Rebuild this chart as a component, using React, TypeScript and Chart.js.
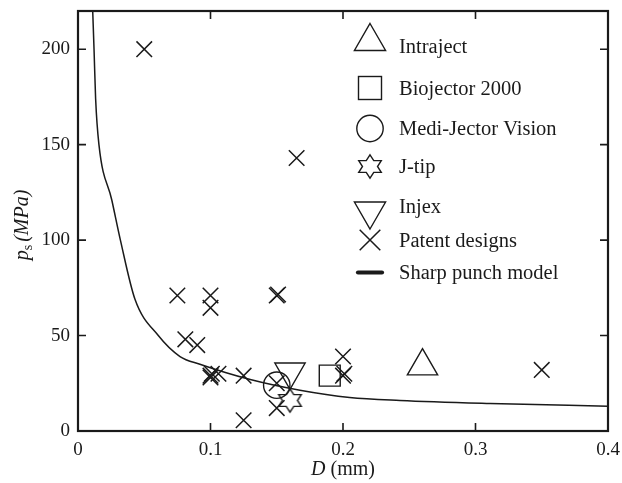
import { useEffect, useRef } from 'react';
import { Chart, registerables } from 'chart.js';

Chart.register(...registerables);

// ---- Data ----
const xTicks = [0, 0.1, 0.2, 0.3, 0.4];
const yTicks = [0, 50, 100, 150, 200];

const intrajectD = [0.26];
const intrajectP = [34];
const biojectorD = [0.19];
const biojectorP = [29];
const mediJectorD = [0.15];
const mediJectorP = [24];
const jTipD = [0.16];
const jTipP = [16];
const injexD = [0.16];
const injexP = [31];

const patentD = [0.05, 0.165, 0.075, 0.1, 0.1, 0.15, 0.151, 0.081, 0.09, 0.1, 0.1, 0.101, 0.106, 0.125, 0.15, 0.15, 0.125, 0.2, 0.2, 0.201, 0.35];
const patentP = [200, 143, 71, 71, 64.5, 71, 71.5, 48, 45, 28, 29, 30, 30, 29, 25, 12, 5.6, 39, 29, 30, 32];

const curveD = [0.0111, 0.0121, 0.0133, 0.0158, 0.0255, 0.032, 0.043, 0.0606, 0.077, 0.092, 0.13, 0.1675, 0.205, 0.243, 0.311, 0.4];
const curveP = [220, 200, 174, 150, 121, 100, 69, 50, 39, 35, 27, 21.4, 17.6, 16, 14.4, 13];

const legendLabels = ['Intraject', 'Biojector 2000', 'Medi-Jector Vision', 'J-tip', 'Injex', 'Patent designs', 'Sharp punch model'];

const INK = '#1a1a1a';
const SERIF = '"Liberation Serif", "Times New Roman", serif';

const pts = (xs: number[], ys: number[]) => xs.map((x, i) => ({ x, y: ys[i] }));

function hexPath(g: CanvasRenderingContext2D, cx: number, cy: number, R: number) {
  const r = R / Math.sqrt(3);
  g.beginPath();
  for (let i = 0; i < 12; i++) {
    const a = -Math.PI / 2 + (i * Math.PI) / 6;
    const rr = i % 2 === 0 ? R : r;
    const px = cx + rr * Math.cos(a);
    const py = cy + rr * Math.sin(a) * 0.9;
    if (i === 0) g.moveTo(px, py);
    else g.lineTo(px, py);
  }
  g.closePath();
}

function makeHexagram(R: number, lw: number) {
  const size = Math.ceil(2 * R + lw * 2 + 4);
  const c = document.createElement('canvas');
  c.width = size;
  c.height = size;
  const g = c.getContext('2d')!;
  g.strokeStyle = INK;
  g.lineWidth = lw;
  g.lineJoin = 'miter';
  hexPath(g, size / 2, size / 2, R);
  g.stroke();
  return c;
}

export default function App() {
  const ref = useRef<HTMLCanvasElement | null>(null);

  useEffect(() => {
    if (!ref.current) return;
    const star = makeHexagram(13, 1.4);

    const decor = {
      id: 'decor',
      afterDraw(chart: any) {
        const ctx: CanvasRenderingContext2D = chart.ctx;
        const a = chart.chartArea;
        const xs = chart.scales.x;
        const ys = chart.scales.y;
        ctx.save();
        ctx.strokeStyle = INK;
        ctx.lineWidth = 1.6;
        const tl = 8;
        xTicks.forEach((v) => {
          const px = xs.getPixelForValue(v);
          ctx.beginPath();
          ctx.moveTo(px, a.bottom);
          ctx.lineTo(px, a.bottom - tl);
          ctx.moveTo(px, a.top);
          ctx.lineTo(px, a.top + tl);
          ctx.stroke();
        });
        yTicks.forEach((v) => {
          const py = ys.getPixelForValue(v);
          ctx.beginPath();
          ctx.moveTo(a.left, py);
          ctx.lineTo(a.left + tl, py);
          ctx.moveTo(a.right, py);
          ctx.lineTo(a.right - tl, py);
          ctx.stroke();
        });
        ctx.lineWidth = 2.2;
        ctx.strokeRect(a.left, a.top, a.right - a.left, a.bottom - a.top);

        // legend
        const sx = 370;
        const tx = 399;
        const rows = [46, 88, 128.5, 166.5, 206.5, 240, 272.5];
        ctx.lineWidth = 1.4;
        ctx.lineJoin = 'miter';
        {
          const r = 18;
          const cy = rows[0] - 0.25 * r;
          ctx.beginPath();
          ctx.moveTo(sx, cy - r);
          ctx.lineTo(sx + 0.866 * r, cy + 0.5 * r);
          ctx.lineTo(sx - 0.866 * r, cy + 0.5 * r);
          ctx.closePath();
          ctx.stroke();
        }
        {
          const h = 11.5;
          ctx.strokeRect(sx - h, rows[1] - h, 2 * h, 2 * h);
        }
        ctx.beginPath();
        ctx.arc(sx, rows[2], 13.2, 0, Math.PI * 2);
        ctx.stroke();
        hexPath(ctx, sx, rows[3], 13);
        ctx.stroke();
        {
          const r = 18;
          const cy = rows[4] + 0.25 * r;
          ctx.beginPath();
          ctx.moveTo(sx, cy + r);
          ctx.lineTo(sx + 0.866 * r, cy - 0.5 * r);
          ctx.lineTo(sx - 0.866 * r, cy - 0.5 * r);
          ctx.closePath();
          ctx.stroke();
        }
        {
          const h = 10.3;
          ctx.lineWidth = 1.5;
          ctx.beginPath();
          ctx.moveTo(sx - h, rows[5] - h);
          ctx.lineTo(sx + h, rows[5] + h);
          ctx.moveTo(sx + h, rows[5] - h);
          ctx.lineTo(sx - h, rows[5] + h);
          ctx.stroke();
        }
        ctx.lineWidth = 4.2;
        ctx.lineCap = 'round';
        ctx.beginPath();
        ctx.moveTo(sx - 12, rows[6]);
        ctx.lineTo(sx + 12, rows[6]);
        ctx.stroke();
        ctx.lineCap = 'butt';

        ctx.fillStyle = INK;
        ctx.font = `20.5px ${SERIF}`;
        ctx.textAlign = 'left';
        ctx.textBaseline = 'middle';
        legendLabels.forEach((t, i) => ctx.fillText(t, tx, rows[i] + 1.5));

        // x-axis title
        const xt1 = 'D';
        const xt2 = ' (mm)';
        ctx.font = `italic 20px ${SERIF}`;
        const w1 = ctx.measureText(xt1).width;
        ctx.font = `20px ${SERIF}`;
        const w2 = ctx.measureText(xt2).width;
        const xc = (a.left + a.right) / 2;
        const x0 = xc - (w1 + w2) / 2;
        ctx.font = `italic 20px ${SERIF}`;
        ctx.fillText(xt1, x0, 470);
        ctx.font = `20px ${SERIF}`;
        ctx.fillText(xt2, x0 + w1, 470);

        // y-axis title
        ctx.save();
        ctx.translate(22, 225);
        ctx.rotate(-Math.PI / 2);
        ctx.font = `italic 20px ${SERIF}`;
        const p = 'p';
        const wp = ctx.measureText(p).width;
        ctx.font = `14px ${SERIF}`;
        const s = 's';
        const ws = ctx.measureText(s).width;
        ctx.font = `italic 20px ${SERIF}`;
        const rest = '(MPa)';
        const wr = ctx.measureText(rest).width;
        const gap = 3;
        const total = wp + ws + gap + wr;
        let cx = -total / 2;
        ctx.textBaseline = 'alphabetic';
        ctx.fillText(p, cx, 6);
        cx += wp;
        ctx.font = `14px ${SERIF}`;
        ctx.fillText(s, cx, 10);
        cx += ws + gap;
        ctx.font = `italic 20px ${SERIF}`;
        ctx.fillText(rest, cx, 6);
        ctx.restore();

        ctx.restore();
      },
    };

    const markerBase = {
      borderColor: INK,
      backgroundColor: 'rgba(0,0,0,0)',
      borderWidth: 1.4,
      showLine: false,
      clip: false,
    };

    const chart = new Chart(ref.current, {
      type: 'scatter',
      data: {
        datasets: [
          {
            label: 'Sharp punch model',
            data: pts(curveD, curveP),
            showLine: true,
            borderColor: INK,
            borderWidth: 1.5,
            pointRadius: 0,
            cubicInterpolationMode: 'monotone',
            fill: false,
          } as any,
          { ...markerBase, label: 'Patent designs', data: pts(patentD, patentP), pointStyle: 'crossRot', pointRadius: 11, borderWidth: 1.5 },
          { ...markerBase, label: 'Intraject', data: pts(intrajectD, intrajectP), pointStyle: 'triangle', pointRadius: 17.5 },
          { ...markerBase, label: 'Biojector 2000', data: pts(biojectorD, biojectorP), pointStyle: 'rect', pointRadius: 14.8 },
          { ...markerBase, label: 'Medi-Jector Vision', data: pts(mediJectorD, mediJectorP), pointStyle: 'circle', pointRadius: 13.2 },
          { ...markerBase, label: 'J-tip', data: pts(jTipD, jTipP), pointStyle: star, pointRadius: 12 },
          { ...markerBase, label: 'Injex', data: pts(injexD, injexP), pointStyle: 'triangle', rotation: 180, pointRadius: 17.5 },
        ],
      },
      options: {
        animation: false,
        responsive: false,
        devicePixelRatio: 1,
        layout: { autoPadding: false, padding: { left: 0, top: 11, right: 14, bottom: 0 } },
        plugins: {
          legend: { display: false },
          tooltip: { enabled: false },
          title: { display: false },
        },
        scales: {
          x: {
            type: 'linear',
            min: 0,
            max: 0.4,
            afterBuildTicks: (sc: any) => {
              sc.ticks = xTicks.map((v) => ({ value: v }));
            },
            afterFit: (sc: any) => {
              sc.height = 52;
              sc.paddingLeft = 0;
              sc.paddingRight = 0;
            },
            grid: { display: false, drawTicks: false },
            border: { display: false },
            ticks: {
              padding: 8,
              color: INK,
              font: { family: SERIF, size: 19 },
              maxRotation: 0,
              callback: (v: any) => String(v),
            },
          },
          y: {
            type: 'linear',
            min: 0,
            max: 220,
            afterBuildTicks: (sc: any) => {
              sc.ticks = yTicks.map((v) => ({ value: v }));
            },
            afterFit: (sc: any) => {
              sc.width = 78;
              sc.paddingTop = 0;
              sc.paddingBottom = 0;
            },
            grid: { display: false, drawTicks: false },
            border: { display: false },
            ticks: {
              padding: 8,
              color: INK,
              font: { family: SERIF, size: 19 },
              callback: (v: any) => String(v),
            },
          },
        },
      },
      plugins: [decor],
    } as any);

    return () => chart.destroy();
  }, []);

  return (
    <div style={{ position: 'absolute', left: 0, top: 0, width: 622, height: 483, background: '#fff' }}>
      <canvas ref={ref} width={622} height={483} style={{ width: 622, height: 483, display: 'block' }} />
    </div>
  );
}
